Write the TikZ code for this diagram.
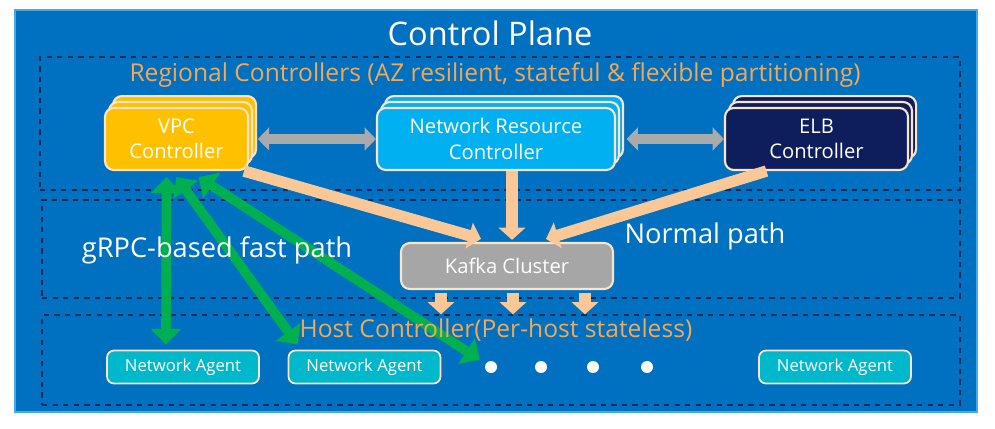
\documentclass[tikz,border=0pt]{standalone}
\usepackage{fontspec}
\setmainfont{Open Sans}
\usetikzlibrary{arrows.meta,shadows,calc}
\definecolor{planeblue}{RGB}{0,112,192}
\definecolor{planeedge}{RGB}{70,170,230}
\definecolor{zoneline}{RGB}{20,40,90}
\definecolor{labelorange}{RGB}{244,168,84}
\definecolor{boxedge}{RGB}{252,228,200}
\definecolor{peach}{RGB}{250,200,150}
\definecolor{vpcgold}{RGB}{255,192,0}
\definecolor{nrcblue}{RGB}{0,176,240}
\definecolor{elbnavy}{RGB}{14,30,92}
\definecolor{kafkagray}{RGB}{166,166,166}
\definecolor{agentcyan}{RGB}{0,184,204}
\definecolor{fastgreen}{RGB}{0,176,80}
\definecolor{linkgray}{RGB}{170,170,170}

\begin{document}
\begin{tikzpicture}[x=0.02cm,y=-0.02cm,
	zone/.style={draw=zoneline,dashed,line width=0.8pt,inner sep=0pt},
	ctrl/.style={draw=boxedge,line width=1.2pt,rounded corners=5pt,fill=#1,text=white,align=center,
		font=\fontsize{11.5}{14.5}\selectfont,minimum height=1.24cm,
		double copy shadow={shadow xshift=2.3pt,shadow yshift=3.4pt,fill=#1,draw=boxedge,line width=1.2pt}},
	agent/.style={draw=boxedge,line width=1pt,rounded corners=4pt,fill=agentcyan,text=white,
		font=\fontsize{9.5}{11}\selectfont,minimum width=3.04cm,minimum height=0.66cm},
	dot/.style={circle,fill=white,inner sep=0pt,minimum size=0.24cm},
	orangelabel/.style={text=labelorange,font=\fontsize{14}{16}\selectfont},
	whitelabel/.style={text=white,font=\fontsize{15.5}{18}\selectfont},
	peacharrow/.style={draw=peach,line width=6.5pt,-{Triangle[width=15pt,length=7pt]}},
	greenarrow/.style={draw=fastgreen,line width=5.5pt,{Triangle[width=17pt,length=9pt]}-{Triangle[width=17pt,length=9pt]}},
	grayarrow/.style={draw=linkgray,line width=5.5pt,{Triangle[width=13pt,length=6.5pt]}-{Triangle[width=13pt,length=6.5pt]}}]
	\useasboundingbox (0,0) rectangle (995,429);
	\fill[white] (0,0) rectangle (995,429);
	\draw[fill=planeblue,draw=planeedge,line width=1pt] (15,10) rectangle (977,412);
	\node[text=white,font=\fontsize{18.5}{22}\selectfont] (title) at (490,33) {Control Plane};

	\node[zone,minimum width=18.4cm,minimum height=2.66cm] (regzone) at (500,123.5) {};
	\node[zone,minimum width=18.36cm,minimum height=1.96cm] (midzone) at (501,249) {};
	\node[zone,minimum width=18.36cm,minimum height=1.8cm] (hostzone) at (501,360) {};

	\node[ctrl=vpcgold,minimum width=2.86cm] (vpc) at (176.5,139) {VPC\\Controller};
	\node[ctrl=nrcblue,minimum width=4.76cm] (nrc) at (496,139) {Network Resource\\Controller};
	\node[ctrl=elbnavy,minimum width=3.66cm] (elb) at (816.5,139) {ELB\\Controller};
	\node[draw=boxedge,line width=1.2pt,rounded corners=5pt,fill=kafkagray,text=white,
		font=\fontsize{11.5}{13}\selectfont,minimum width=4.24cm,minimum height=0.92cm] (kafka) at (507,266) {Kafka Cluster};

	\node[agent] (agent1) at (183,367) {Network Agent};
	\node[agent] (agent2) at (364.5,367) {Network Agent};
	\node[agent] (agent3) at (835,367) {Network Agent};
	\foreach \x [count=\i] in {491,541,593,647}
		\node[dot] (dot\i) at (\x,367) {};

	\draw[grayarrow,shorten <=5pt] (vpc) -- (nrc);
	\draw[grayarrow,shorten <=6pt] (nrc) -- (elb);

	\path ($(kafka.north)+(5,-2)$) coordinate (kin);
	\draw[peacharrow] ($(vpc.south east)+(-5,0)$) -- ($(kafka.north)+(-26,-3)$);
	\draw[peacharrow] (kin |- nrc.south) -- (kin);
	\draw[peacharrow] ($(elb.south)+(-50,0)$) -- ($(kafka.north)+(39,-3)$);
	\foreach \dx in {-66,6,78} {
		\path ($(kafka.south)+(\dx,3)$) coordinate (kout);
		\draw[peacharrow] (kout) -- (kout |- hostzone.north);
	}

	\draw[greenarrow] ($(vpc.south)+(-10,6)$) -- ($(agent1.north)+(-17,-5)$);
	\draw[greenarrow] ($(vpc.south)+(0,6)$) -- ($(agent2.north)+(-67,-5)$);
	\draw[greenarrow,shorten >=4pt] ($(vpc.south)+(22,6)$) -- (dot1);

	\node[orangelabel] (reglabel) at (495,75) {Regional Controllers (AZ resilient, stateful \& flexible partitioning)};
	\node[whitelabel] (fastlabel) at (217,250) {gRPC-based fast path};
	\node[whitelabel] (normallabel) at (705,236) {Normal path};
	\node[orangelabel] (hostlabel) at (496,330) {Host Controller(Per-host stateless)};
\end{tikzpicture}
\end{document}
